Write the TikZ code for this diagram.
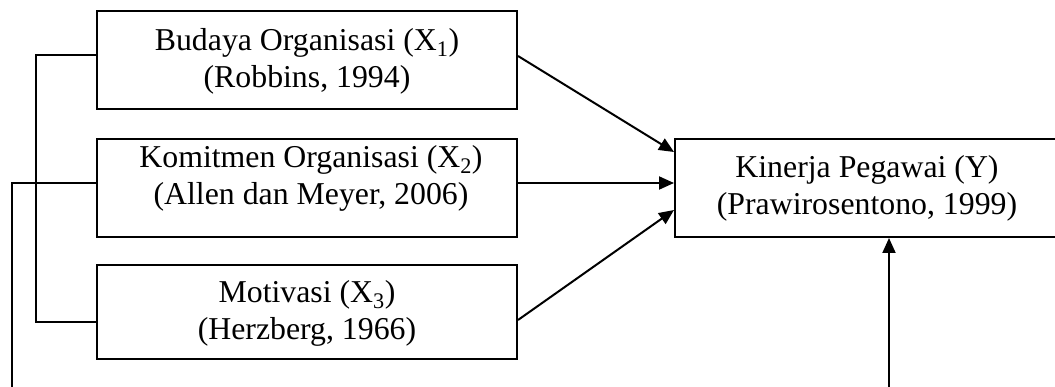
\documentclass[tikz,border=0pt]{standalone}
\usepackage{fontspec}
\setmainfont{Liberation Serif}
\usetikzlibrary{arrows.meta,calc}
\begin{document}
\begin{tikzpicture}[x=1pt,y=-1pt,
  box/.style={draw,line width=2pt,inner sep=0pt,minimum width=420pt,minimum height=98pt},
  txt/.style={align=center,inner sep=0pt,font=\fontsize{31.8}{37}\selectfont},
  conn/.style={line width=2pt},
  arr/.style={line width=2pt,-{Triangle[length=15pt,width=13pt]}}]
\clip (0,0) rectangle (1055,387);
\fill[white] (0,0) rectangle (1055,387);
\node[box] (b1) at (307,60) {};
\node[txt] (t1) at (307,61) {Budaya Organisasi (X\textsubscript{1})\\(Robbins, 1994)};
\node[box] (b2) at (307,188) {};
\node[txt] (t2) at (311,178) {Komitmen Organisasi (X\textsubscript{2})\\(Allen dan Meyer, 2006)};
\node[box,minimum height=94pt] (b3) at (307,312) {};
\node[txt] (t3) at (307,313) {Motivasi (X\textsubscript{3})\\(Herzberg, 1966)};
\node[box,minimum width=384pt] (bY) at (867,188) {};
\node[txt] (tY) at (867,188) {Kinerja Pegawai (Y)\\(Prawirosentono, 1999)};
\coordinate (c1) at (36,55);
\coordinate (c3) at (36,322);
\coordinate (c2) at (12,183);
\coordinate (cb) at (12,395);
\coordinate (cr) at (889,395);
\draw[conn] ($(b1.west)+(0,-5)$) -- (c1) -- (c3) -- ($(b3.west)+(0,10)$);
\draw[conn] ($(b2.west)+(0,-5)$) -- (c2) -- (cb);
\draw[arr] ($(b1.east)+(0,-4)$) -- ($(bY.west)+(0,-36)$);
\draw[arr] ($(b2.east)+(0,-5)$) -- ($(bY.west)+(0,-5)$);
\draw[arr] ($(b3.east)+(0,8)$) -- ($(bY.west)+(0,22)$);
\draw[arr] (cr) -- (cr |- bY.south);
\end{tikzpicture}
\end{document}
